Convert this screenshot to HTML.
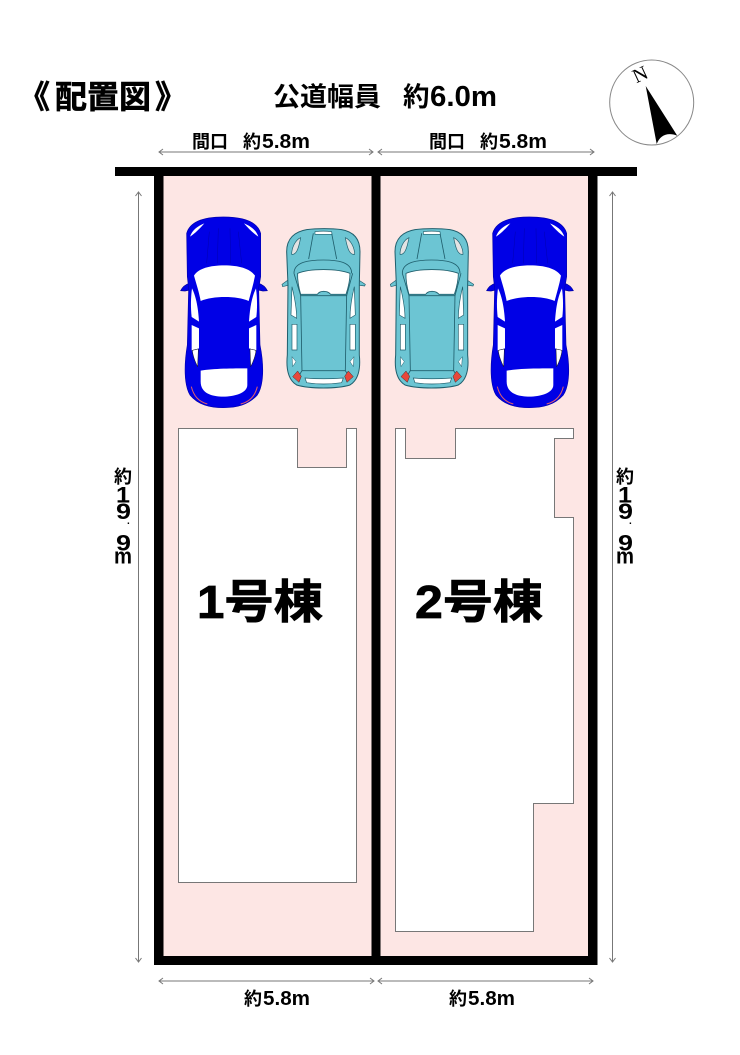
<!DOCTYPE html>
<html><head><meta charset="utf-8"><style>
html,body{margin:0;padding:0;background:#fff}
svg{display:block}
text{font-family:"Liberation Sans","Noto Sans CJK JP",sans-serif;font-weight:bold;fill:#000}
</style></head><body>
<svg width="740" height="1055" viewBox="0 0 740 1055" xmlns="http://www.w3.org/2000/svg">
<defs>
<g id="blue">
<path fill="#0000e6" stroke="#00009a" stroke-width="2" d="M32,257C38,245 48,238 58,235L60,255L45,258Z"/>
<path fill="#0000e6" stroke="#00009a" stroke-width="2" d="M292,257C286,245 276,238 266,235L264,255L279,258Z"/>
<path fill="#0000e6" stroke="#0000b0" stroke-width="2" d="M160,36C220,36 262,50 272,85L272,215L266,250L270,420C282,480 282,540 262,570C235,600 200,608 160,608C120,608 85,600 60,570C42,540 42,480 52,420L56,250L52,215L50,85C60,50 100,36 160,36Z"/>
<path fill="#fff" d="M72,212C85,190 120,181 163,181C205,181 240,190 255,212C250,240 242,265 236,288C200,272 130,272 92,288C88,265 80,240 72,212Z"/>
<path fill="#fff" d="M92,497C130,490 190,490 232,490L232,540C232,565 190,575 160,575C125,575 92,565 92,530Z"/>
<path fill="#fff" d="M66,250C76,270 84,300 87,350L65,336C62,310 62,280 66,250Z"/>
<path fill="#fff" d="M258,250C248,270 240,300 237,350L259,336C262,310 262,280 258,250Z"/>
<path fill="#fff" d="M65,360L87,370L87,430L65,436Z"/>
<path fill="#fff" d="M259,360L237,370L237,430L259,436Z"/>
<path fill="#fff" stroke="#111" stroke-width="1.500" d="M67,436L85,432L83,485C75,470 68,450 67,436Z"/>
<path fill="#fff" stroke="#111" stroke-width="1.500" d="M258,436L240,432L242,485C250,470 257,450 258,436Z"/>
<path fill="#fff" d="M60,95C66,75 85,62 103,55C90,70 75,85 60,95Z"/>
<path fill="#fff" d="M265,95C259,75 240,62 222,55C235,70 250,85 265,95Z"/>
<path fill="none" stroke="#e0606a" stroke-width="3" d="M64,545C70,570 85,590 112,597"/>
<path fill="none" stroke="#e0606a" stroke-width="3" d="M262,545C256,570 241,590 212,597"/>
<path fill="none" stroke="#0000b0" stroke-width="1.500" d="M118,80L110,175M145,70L142,175M180,70L182,175M205,80L215,175"/>
</g>
<g id="teal">
<path fill="#6cc5d3" stroke="#1f5e6c" stroke-width="2" d="M54,225L36,238L38,245L58,240Z"/>
<path fill="#6cc5d3" stroke="#1f5e6c" stroke-width="2" d="M266,225L286,238L284,243L262,240Z"/>
<path fill="#6cc5d3" stroke="#1f5e6c" stroke-width="3" d="M110,74C140,70 185,70 215,74C250,80 270,100 270,140L268,240L268,450C272,490 265,525 240,540C200,552 120,552 80,540C55,525 48,490 52,450L54,240L50,140C50,100 75,80 110,74Z"/>
<path fill="#fff" stroke="#1f5e6c" stroke-width="2.500" d="M83,205C120,190 200,190 240,205C240,225 234,250 228,268L182,268C172,256 150,256 142,268L92,268C87,250 82,225 83,205Z"/>
<path fill="#6cc5d3" stroke="#1f5e6c" stroke-width="2.500" d="M92,272L230,272L226,497L96,497Z"/>
<path fill="none" stroke="#1f5e6c" stroke-width="2.500" d="M72,205C72,170 120,165 160,165C200,165 245,170 245,205M130,85L116,162M185,85L200,162M96,497L82,520M226,497L240,520M72,205L92,272M248,205L230,272"/>
<path fill="#fff" stroke="#1f5e6c" stroke-width="2" d="M135,80C150,78 170,78 185,80L186,88L135,88Z"/>
<path fill="#e3e3e3" stroke="#1f5e6c" stroke-width="2" d="M92,98C75,105 65,130 65,148C78,150 85,135 92,98Z"/>
<path fill="#e3e3e3" stroke="#1f5e6c" stroke-width="2" d="M226,98C243,105 254,130 254,148C240,150 233,135 226,98Z"/>
<path fill="#fff" stroke="#1f5e6c" stroke-width="2" d="M66,245C72,270 80,310 80,340L63,330Z"/>
<path fill="#fff" stroke="#1f5e6c" stroke-width="2" d="M253,245C247,270 240,310 240,340L256,330Z"/>
<path fill="#fff" stroke="#1f5e6c" stroke-width="2" d="M66,358L81,358L81,435L66,435Z"/>
<path fill="#fff" stroke="#1f5e6c" stroke-width="2" d="M240,358L256,358L256,435L240,435Z"/>
<path fill="#fff" stroke="#1f5e6c" stroke-width="1.500" d="M66,455L78,470L68,485Z"/>
<path fill="#fff" stroke="#1f5e6c" stroke-width="1.500" d="M252,455L240,470L250,485Z"/>
<path fill="#fff" stroke="#1f5e6c" stroke-width="2" d="M105,519C140,522 180,522 220,519L215,533C180,538 140,538 110,533Z"/>
<path fill="#e8473b" stroke="#333" stroke-width="1.500" d="M83,498L94,514L87,532L68,515Z"/>
<path fill="#e8473b" stroke="#333" stroke-width="1.500" d="M235,498L224,514L231,532L250,515Z"/>
</g>
</defs>
<rect width="740" height="1055" fill="#fff"/>
<rect x="158" y="172" width="435" height="788" fill="#fde6e4"/>
<polygon fill="#fff" stroke="#777" stroke-width="1" points="178.500,428.500 297.500,428.500 297.500,467.500 346.500,467.500 346.500,428.500 356.500,428.500 356.500,882.500 178.500,882.500"/>
<polygon fill="#fff" stroke="#777" stroke-width="1" points="395.500,428.500 405.500,428.500 405.500,458.500 455.500,458.500 455.500,428.500 573.500,428.500 573.500,438.500 554.500,438.500 554.500,517.500 573.500,517.500 573.500,803.500 533.500,803.500 533.500,931.500 395.500,931.500"/>
<rect x="115" y="167" width="522" height="9"/>
<rect x="154" y="170" width="9.500" height="795"/>
<rect x="371.500" y="170" width="9" height="795"/>
<rect x="588" y="170" width="9.500" height="795"/>
<rect x="154" y="956" width="443.500" height="9"/>
<use href="#blue" transform="translate(170,205) scale(0.3333)"/>
<use href="#teal" transform="translate(170,205) scale(0.3333) translate(300,0)"/>
<use href="#teal" transform="translate(380,205) scale(0.3333) translate(-5,0)"/>
<use href="#blue" transform="translate(380,205) scale(0.3333) translate(288,0)"/>
<g fill="none" stroke="#777" stroke-width="1">
<path d="M159,152H373M163,149L159,152L163,155M369,149L373,152L369,155M378,152H594M382,149L378,152L382,155M590,149L594,152L590,155"/>
<path d="M159,981H374M163,978L159,981L163,984M370,978L374,981L370,984M378,981H593M382,978L378,981L382,984M589,978L593,981L589,984"/>
<path d="M138.500,192V962M135.500,958L138.500,962L141.500,958M135.500,196L138.500,192L141.500,196"/>
<path d="M612.500,192V962M609.500,958L612.500,962L615.500,958M609.500,196L612.500,192L615.500,196"/>
</g>
<text x="18" y="108" font-size="32" stroke="#000" stroke-width="0.6">《</text>
<text x="55" y="108" font-size="32" stroke="#000" stroke-width="0.6">配置図</text>
<text x="155" y="108" font-size="32" stroke="#000" stroke-width="0.6">》</text>
<text x="273" y="106" font-size="26.500" textLength="108" lengthAdjust="spacingAndGlyphs">公道幅員</text>
<text x="403" y="106" font-size="26.500">約</text>
<text x="430" y="106" font-size="29" textLength="67" lengthAdjust="spacingAndGlyphs">6.0m</text>
<text x="192" y="148" font-size="18" textLength="36" lengthAdjust="spacingAndGlyphs">間口</text>
<text x="243" y="148" font-size="18">約</text>
<text x="262" y="148" font-size="20.500" textLength="48" lengthAdjust="spacingAndGlyphs">5.8m</text>
<text x="429" y="148" font-size="18" textLength="36" lengthAdjust="spacingAndGlyphs">間口</text>
<text x="480" y="148" font-size="18">約</text>
<text x="499" y="148" font-size="20.500" textLength="48" lengthAdjust="spacingAndGlyphs">5.8m</text>
<text x="244" y="1005" font-size="18">約</text>
<text x="263" y="1005" font-size="20.500" textLength="47" lengthAdjust="spacingAndGlyphs">5.8m</text>
<text x="449" y="1005" font-size="18">約</text>
<text x="468" y="1005" font-size="20.500" textLength="47" lengthAdjust="spacingAndGlyphs">5.8m</text>
<text x="197" y="618" font-size="46" textLength="126" lengthAdjust="spacingAndGlyphs" stroke="#000" stroke-width="0.8">1号棟</text>
<text x="415" y="618" font-size="46" textLength="128" lengthAdjust="spacingAndGlyphs" stroke="#000" stroke-width="0.8">2号棟</text>
<g font-size="22">
<text x="114" y="483" font-size="18">約</text><text x="116" y="502.500" textLength="14" lengthAdjust="spacingAndGlyphs">1</text><text x="116" y="519" textLength="15" lengthAdjust="spacingAndGlyphs">9</text><text x="127" y="524" font-size="10">.</text><text x="116" y="550.500" textLength="15" lengthAdjust="spacingAndGlyphs">9</text><text x="114" y="563.500" textLength="18" lengthAdjust="spacingAndGlyphs">m</text>
<text x="616" y="483" font-size="18">約</text><text x="618" y="502.500" textLength="14" lengthAdjust="spacingAndGlyphs">1</text><text x="618" y="519" textLength="15" lengthAdjust="spacingAndGlyphs">9</text><text x="629" y="524" font-size="10">.</text><text x="618" y="550.500" textLength="15" lengthAdjust="spacingAndGlyphs">9</text><text x="616" y="563.500" textLength="18" lengthAdjust="spacingAndGlyphs">m</text>
</g>
<ellipse cx="651.700" cy="102.500" rx="42" ry="42.500" fill="#fff" stroke="#888" stroke-width="1"/>
<path fill="#000" d="M645.700,86L677.300,135.700C668,132 660,135 656.700,144Z"/>
<text x="640" y="81" font-size="20" text-anchor="middle" transform="rotate(-25 640 74)" style="font-family:'Liberation Serif',serif;font-weight:normal">N</text>
</svg>
</body></html>
